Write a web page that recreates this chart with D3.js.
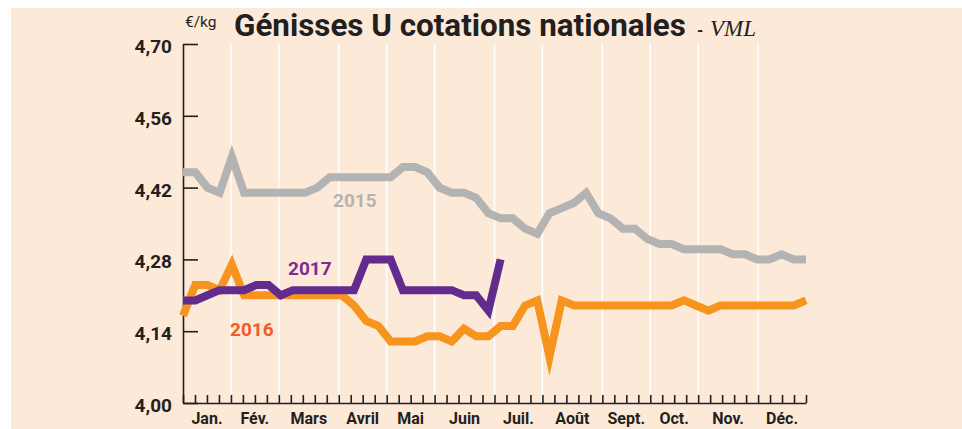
<!DOCTYPE html>
<html>
<head>
<meta charset="utf-8">
<script src="https://cdn.jsdelivr.net/npm/d3@7"></script>
<style>
body { margin: 0; background: #fff; }
svg { display: block; }
text { font-family: Roboto, "DejaVu Sans", sans-serif; fill: #231f20; }
</style>
</head>
<body>
<svg id="chart" width="962" height="429"></svg>
<script>
// weekly prices, €/kg
var months = ['Jan.', 'Fév.', 'Mars', 'Avril', 'Mai', 'Juin', 'Juil.', 'Août', 'Sept.', 'Oct.', 'Nov.', 'Déc.'];
var monthStarts = [0, 4, 8, 13, 17, 21, 26, 30, 35, 39, 43, 48, 52]; // week boundaries
var yTicks = [4.00, 4.14, 4.28, 4.42, 4.56, 4.70];

var prices2015 = [4.45, 4.45, 4.42, 4.41, 4.48, 4.41, 4.41, 4.41, 4.41, 4.41, 4.41, 4.42, 4.44, 4.44,
    4.44, 4.44, 4.44, 4.44, 4.46, 4.46, 4.45, 4.42, 4.41, 4.41, 4.40, 4.37, 4.36, 4.36, 4.34, 4.33,
    4.37, 4.38, 4.39, 4.41, 4.37, 4.36, 4.34, 4.34, 4.32, 4.31, 4.31, 4.30, 4.30, 4.30, 4.30, 4.29,
    4.29, 4.28, 4.28, 4.29, 4.28, 4.28];
var prices2016 = [4.17, 4.23, 4.23, 4.22, 4.27, 4.21, 4.21, 4.21, 4.21, 4.21, 4.21, 4.21, 4.21, 4.21,
    4.19, 4.16, 4.15, 4.12, 4.12, 4.12, 4.13, 4.13, 4.12, 4.145, 4.13, 4.13, 4.15, 4.15, 4.19, 4.20,
    4.09, 4.20, 4.19, 4.19, 4.19, 4.19, 4.19, 4.19, 4.19, 4.19, 4.19, 4.20, 4.19, 4.18, 4.19, 4.19,
    4.19, 4.19, 4.19, 4.19, 4.19, 4.20];
var prices2017 = [4.20, 4.20, 4.21, 4.22, 4.22, 4.22, 4.23, 4.23, 4.21, 4.22, 4.22, 4.22, 4.22, 4.22,
    4.22, 4.28, 4.28, 4.28, 4.22, 4.22, 4.22, 4.22, 4.22, 4.21, 4.21, 4.18, 4.28];

var series = [
    {year: '2015', values: prices2015, color: '#b3b3b3', label: '#b3b3b3', lx: 333, ly: 207},
    {year: '2016', values: prices2016, color: '#f7941d', label: '#f15a29', lx: 230, ly: 336},
    {year: '2017', values: prices2017, color: '#632b8e', label: '#7f2a8f', lx: 288, ly: 275}
];

var margin = {top: 44, right: 156, bottom: 26, left: 183};
var width = 962 - margin.left - margin.right;
var height = 429 - margin.top - margin.bottom;

var svg = d3.select('#chart');

svg.append('rect')
    .attr('x', 11)
    .attr('y', 8)
    .attr('width', 951)
    .attr('height', 421)
    .attr('fill', '#fde9d8');

var g = svg.append('g')
    .attr('transform', 'translate(' + margin.left + ',' + margin.top + ')');

var xWeek = d3.scaleLinear().domain([0, 52]).range([0, width]);
var xPoint = d3.scaleLinear().domain([0, 51]).range([0, width]);
var y = d3.scaleLinear().domain([4.00, 4.70]).range([height, 0]);

// white month separators
g.append('g')
    .selectAll('line')
    .data(monthStarts.slice(1, -1))
    .enter()
    .append('line')
    .attr('x1', d => xWeek(d))
    .attr('x2', d => xWeek(d))
    .attr('y1', 0)
    .attr('y2', height)
    .attr('stroke', '#fff')
    .attr('stroke-width', 1.5);

// axes
var fmt = d3.format('.2f');
var yAxis = g.append('g')
    .call(d3.axisLeft(y).tickValues(yTicks).tickSizeInner(-15).tickSizeOuter(0).tickPadding(11)
        .tickFormat(d => fmt(d).replace('.', ',')));
yAxis.selectAll('text')
    .attr('dy', '0.45em')
    .style('font-size', '19px')
    .style('font-weight', 700)
    .style('font-family', 'Roboto')
    .attr('fill', '#231f20');

var xAxis = g.append('g')
    .attr('transform', 'translate(0,' + height + ')')
    .call(d3.axisBottom(xWeek).tickValues(d3.range(53)).tickSizeInner(-8).tickSizeOuter(0).tickFormat(''));

g.selectAll('.domain, .tick line')
    .attr('stroke', '#231f20')
    .attr('stroke-width', 1.6);

// month labels centred between separators
g.append('g')
    .selectAll('text')
    .data(months)
    .enter()
    .append('text')
    .attr('x', (d, i) => (xWeek(monthStarts[i]) + xWeek(monthStarts[i + 1])) / 2)
    .attr('y', height + 21)
    .attr('text-anchor', 'middle')
    .style('font-size', '16px')
    .style('font-weight', 700)
    .text(d => d);

// price lines
var line = d3.line()
    .x((d, i) => xPoint(i))
    .y(d => y(d));

g.append('g')
    .selectAll('path')
    .data(series)
    .enter()
    .append('path')
    .attr('d', d => line(d.values))
    .attr('fill', 'none')
    .attr('stroke', d => d.color)
    .attr('stroke-width', 8)
    .attr('stroke-linejoin', 'miter')
    .attr('stroke-miterlimit', 10);

svg.selectAll('.yearlabel')
    .data(series)
    .enter()
    .append('text')
    .attr('class', 'yearlabel')
    .attr('x', d => d.lx)
    .attr('y', d => d.ly)
    .style('font-size', '19px')
    .style('font-weight', 700)
    .style('fill', d => d.label)
    .text(d => d.year);

// titles
svg.append('text')
    .attr('x', 185)
    .attr('y', 27)
    .style('font-size', '15.5px')
    .text('€/kg');

var title = svg.append('text')
    .attr('x', 234)
    .attr('y', 36)
    .style('font-size', '30px')
    .style('font-weight', 700)
    .text('Génisses U cotations nationales');
var tw = title.node().getComputedTextLength();
title.style('font-size', (30 * 452 / tw) + 'px');

svg.append('text')
    .attr('x', 697)
    .attr('y', 36)
    .style('font-size', '16px')
    .style('font-weight', 700)
    .text('-');

svg.append('text')
    .attr('x', 710)
    .attr('y', 36)
    .style('font-family', '"Liberation Serif", serif')
    .style('font-style', 'italic')
    .style('font-size', '23px')
    .text('VML');
</script>
</body>
</html>
